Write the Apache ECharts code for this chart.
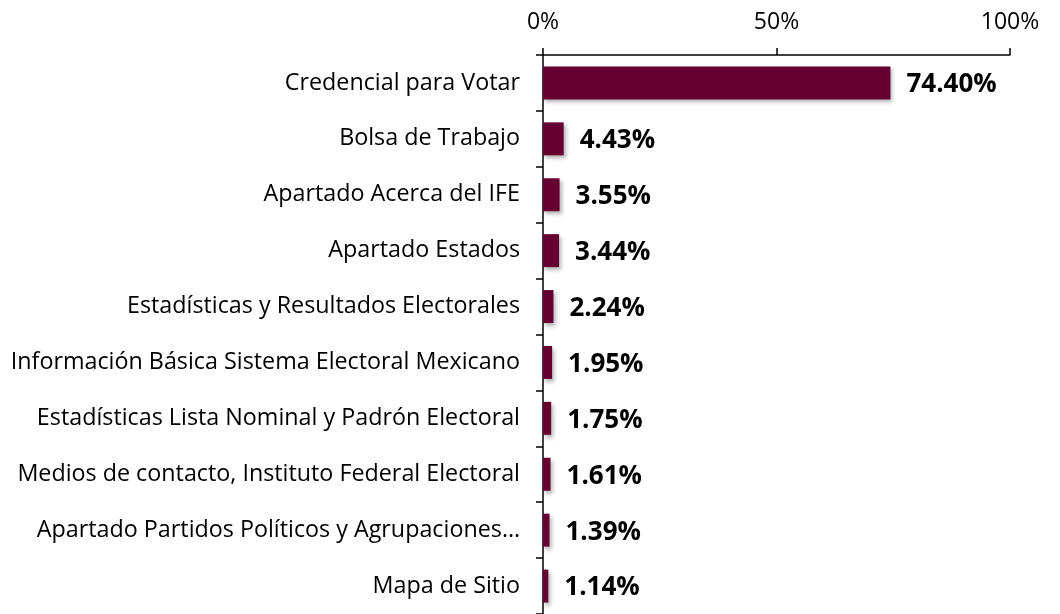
<!DOCTYPE html>
<html>
<head>
<meta charset="utf-8">
<style>
    html, body { margin: 0; padding: 0; background: #fff; }
    #chart { width: 1060px; height: 614px; }
</style>
<script src="https://cdn.jsdelivr.net/npm/echarts@6/dist/echarts.min.js"></script>
</head>
<body>
<div id="chart"></div>
<script>
    var categories = [
        'Credencial para Votar',
        'Bolsa de Trabajo',
        'Apartado Acerca del IFE',
        'Apartado Estados',
        'Estadísticas y Resultados Electorales',
        'Información Básica Sistema Electoral Mexicano',
        'Estadísticas Lista Nominal y Padrón Electoral',
        'Medios de contacto, Instituto Federal Electoral',
        'Apartado Partidos Políticos y Agrupaciones…',
        'Mapa de Sitio'
    ];
    var values = [74.40, 4.43, 3.55, 3.44, 2.24, 1.95, 1.75, 1.61, 1.39, 1.14];
    var tickValues = [0, 50, 100];

    var font = 'Open Sans';

    var option = {
        animation: false,
        grid: {
            left: 543,
            right: 50,
            top: 55,
            bottom: -4
        },
        xAxis: {
            type: 'value',
            position: 'top',
            min: 0,
            max: 100,
            interval: 50,
            axisLine: { show: true, lineStyle: { color: '#000', width: 1.5 } },
            axisTick: { show: true, length: 7, lineStyle: { color: '#000', width: 1.5 } },
            splitLine: { show: false },
            axisLabel: {
                margin: 21,
                fontFamily: font,
                fontSize: 23,
                color: '#000',
                formatter: function (v) {
                    return tickValues.indexOf(v) >= 0 ? v + '%' : '';
                }
            }
        },
        yAxis: {
            type: 'category',
            inverse: true,
            data: categories,
            axisLine: { show: true, lineStyle: { color: '#000', width: 1.5 } },
            axisTick: { show: true, length: 7, lineStyle: { color: '#000', width: 1.5 } },
            axisLabel: {
                margin: 23,
                fontFamily: font,
                fontSize: 23.3,
                color: '#000'
            }
        },
        series: [{
            type: 'bar',
            data: values,
            barCategoryGap: '41%',
            itemStyle: {
                color: '#660033',
                shadowBlur: 4,
                shadowOffsetX: 2,
                shadowOffsetY: 3,
                shadowColor: 'rgba(0,0,0,0.3)'
            },
            label: {
                show: true,
                position: 'right',
                distance: 16,
                offset: [0, 2],
                fontFamily: font,
                fontSize: 26,
                fontWeight: 'bold',
                color: '#000',
                formatter: function (p) {
                    return p.value.toFixed(2) + '%';
                }
            }
        }]
    };

    var myChart = echarts.init(document.getElementById('chart'));
    myChart.setOption(option);
</script>
</body>
</html>
